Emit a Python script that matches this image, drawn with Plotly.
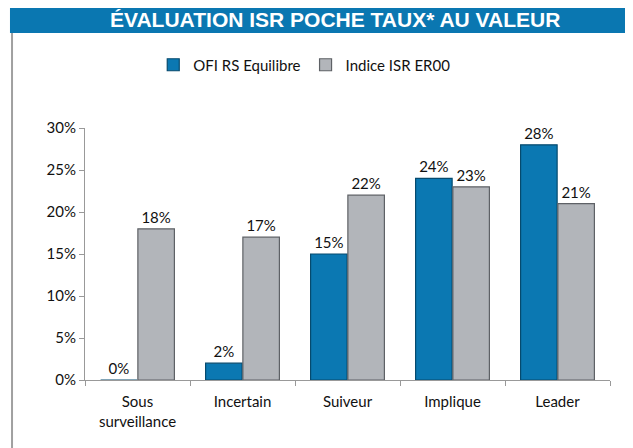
import plotly.graph_objects as go

categories = ["Sous<br>surveillance", "Incertain", "Suiveur", "Implique", "Leader"]
ofi_values = [0, 2, 15, 24, 28]
indice_values = [18, 17, 22, 23, 21]
series_names = ["OFI RS Equilibre", "Indice ISR ER00"]
y_ticks = [0, 5, 10, 15, 20, 25, 30]

BLUE = "#0b78b2"
GREY = "#b2b5ba"
FONT = "Lato"

fig = go.Figure()
for name, vals, col, edge in [
    (series_names[0], ofi_values, BLUE, "#064a6e"),
    (series_names[1], indice_values, GREY, "#5e6166"),
]:
    fig.add_trace(go.Bar(
        x=categories, y=vals, name=name,
        marker=dict(color=col, line=dict(color=edge, width=1.2)),
        text=[f"{v}%" for v in vals], textposition="outside",
        textfont=dict(size=15, color="#111"), cliponaxis=False,
    ))

# title banner and left border line
fig.add_shape(type="rect", xref="paper", yref="paper",
              x0=-0.1429, x1=1.07, y0=1.377, y1=1.49,
              fillcolor="#0a77b1", line_width=0, layer="below")
fig.add_shape(type="line", xref="paper", yref="paper",
              x0=-0.139, x1=-0.139, y0=1.377, y1=-0.33,
              line=dict(color="#a0a0a0", width=2))
fig.add_annotation(text="<b>ÉVALUATION ISR POCHE TAUX* AU VALEUR</b>",
                   xref="paper", yref="paper", x=0.476, y=1.43,
                   showarrow=False, xanchor="center", yanchor="middle",
                   font=dict(family="Liberation Sans", size=21, color="white"))

fig.update_layout(
    width=633, height=448,
    margin=dict(l=77, r=31, t=120, b=76),
    paper_bgcolor="white", plot_bgcolor="white",
    barmode="group", bargap=0.29, bargroupgap=0.02,
    font=dict(family=FONT, size=15, color="#111"),
    showlegend=True,
    legend=dict(orientation="h", x=0.13, xanchor="left", y=1.25, yanchor="middle",
                font=dict(size=15), itemwidth=30, traceorder="normal"),
    xaxis=dict(showline=True, linecolor="#999", ticks="outside", ticklen=5,
               tickcolor="#999", tickson="boundaries", tickfont=dict(size=15),
               ticklabelstandoff=8),
    yaxis=dict(range=[0, 30], tickvals=y_ticks, ticktext=[f"{t}%" for t in y_ticks],
               showgrid=False, showline=True, linecolor="#999", ticks="outside",
               ticklen=5, tickcolor="#999", zeroline=False, tickfont=dict(size=15)),
)

fig.write_html("out.html")
